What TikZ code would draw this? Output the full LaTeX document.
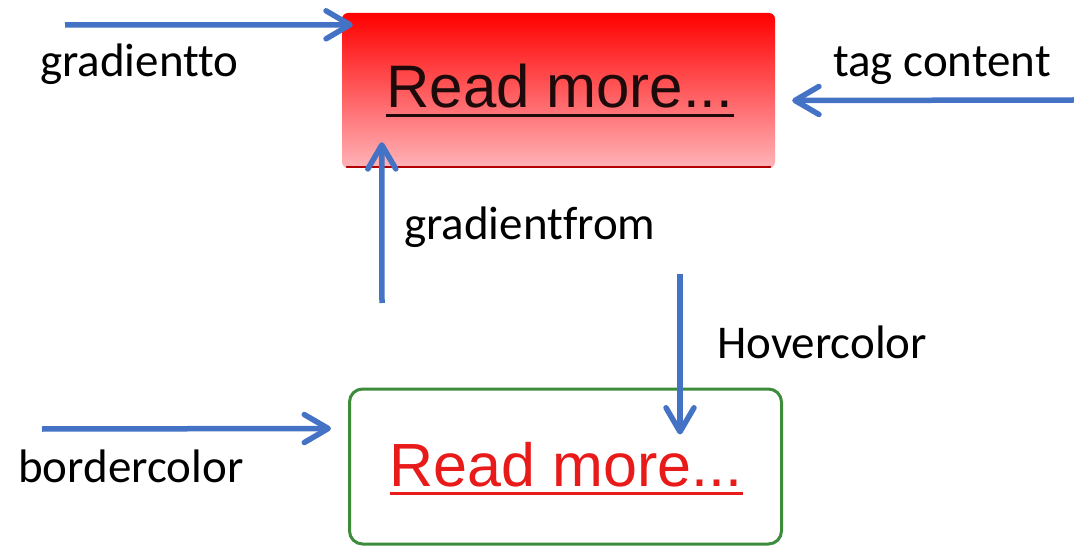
\documentclass[tikz,border=0pt]{standalone}
\usepackage{fontspec}
\setmainfont{Carlito}[Ligatures=NoCommon]
\newfontfamily\arialfont{Liberation Sans}
\usetikzlibrary{arrows.meta,calc}
\definecolor{arrowblue}{HTML}{4472C4}
\definecolor{bordergreen}{HTML}{3C8C3C}
\definecolor{hoverred}{HTML}{E81A1A}
\definecolor{pinkend}{HTML}{FFB4B9}
\definecolor{textdark}{HTML}{1E0A0A}
\tikzset{
  pointer/.style={draw=arrowblue, line width=5.5pt, -{Straight Barb[length=24pt,width=28pt,round]}},
  tagtext/.style={anchor=base west, inner sep=0pt, font=\fontsize{47}{56}\selectfont},
  btntext/.style={inner sep=0pt, font=\arialfont\fontsize{60}{72}\selectfont}
}

\begin{document}
\begin{tikzpicture}[x=1pt,y=-1pt]

        \useasboundingbox (0,0) rectangle (1074,548);

        % the two buttons
        \node[rounded corners=6pt, top color=red, bottom color=pinkend, minimum width=433pt, minimum height=155pt, inner sep=0pt] (btnnormal) at (558.5,90.5) {};
        \draw[red!70!black, line width=2.5pt, line cap=round] ($(btnnormal.south west)+(5,-1)$) -- ($(btnnormal.south east)+(-5,-1)$);

        \node[draw=bordergreen, line width=3pt, rounded corners=13pt, fill=white, minimum width=432pt, minimum height=155pt, inner sep=0pt] (btnhover) at (565.5,466.5) {};

        \node[btntext, text=textdark] (txtnormal) at (560,86) {Read more...};
        \draw[textdark, line width=3.5pt] ($(txtnormal.base west)+(0,8)$) -- ($(txtnormal.base east)+(0,8)$);

        \node[btntext, text=hoverred, font=\arialfont\fontsize{61}{72}\selectfont] (txthover) at (566,464.5) {Read more...};
        \draw[hoverred, line width=3pt] ($(txthover.base west)+(0,7)$) -- ($(txthover.base east)+(0,7)$);

        % labels
        \node[tagtext] (lblto) at (40,77) {gradientto};
        \node[tagtext] (lblcontent) at (833,77) {tag content};
        \node[tagtext] (lblfrom) at (404,240) {gradientfrom};
        \node[tagtext] (lblhover) at (717,358) {Hovercolor};
        \node[tagtext] (lblborder) at (18,482) {bordercolor};

        % arrows
        \coordinate (toStart) at (65,25);
        \coordinate (contentStart) at (1074,100);
        \coordinate (fromStart) at (382,303);
        \coordinate (hoverStart) at (680,274);
        \coordinate (borderStart) at (42,429);

        \draw[pointer] (toStart) -- ($(btnnormal.north west)+(11,12)$);
        \draw[pointer] (contentStart) -- ($(btnnormal.east)+(17,10)$);
        \draw[pointer] (fromStart) -- ($(btnnormal.south west)+(40,-26)$);
        \draw[pointer] (hoverStart) -- ($(btnhover.north west)+(332,47)$);
        \draw[pointer] (borderStart) -- ($(btnhover.west)+(-17,-38)$);

    \end{tikzpicture}
\end{document}
